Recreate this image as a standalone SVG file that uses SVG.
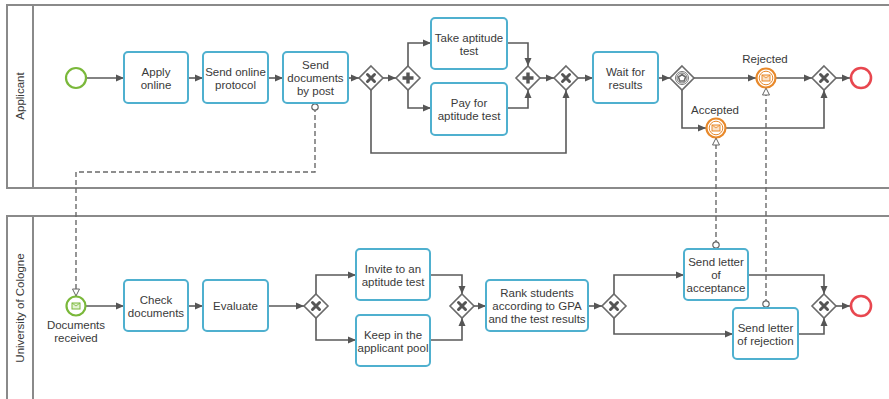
<svg xmlns="http://www.w3.org/2000/svg" width="889" height="399" viewBox="0 0 889 399">
<style>
.pool{fill:none;stroke:#8a8a8a;stroke-width:2}
.task rect{fill:#fff;stroke:#4fb0cf;stroke-width:2}
.t{font-family:"Liberation Sans",Arial,sans-serif;font-size:11.5px;fill:#3a3a3a;text-anchor:middle}
.lbl{font-family:"Liberation Sans",Arial,sans-serif;font-size:11.5px;fill:#3a3a3a;text-anchor:middle}
.gw polygon{fill:#fff;stroke:#6a6a6a;stroke-width:1.6}
.xm{stroke:#555;stroke-width:3;stroke-linecap:round;fill:none}
.pm{stroke:#555;stroke-width:3.4;fill:none}
.flow{fill:none;stroke:#5a5a5a;stroke-width:1.6}
.msg{fill:none;stroke:#6a6a6a;stroke-width:1.4;stroke-dasharray:5,3}
.start{fill:#fff;stroke:#7ab83a;stroke-width:2.2}
.end{fill:#fff;stroke:#e8474f;stroke-width:2.6}
.inter{fill:#fff;stroke:#e8892b;stroke-width:2.2}
.env{fill:#fbe3c8;stroke:#e8892b;stroke-width:1}
</style>
<defs>
<marker id="ar" markerUnits="userSpaceOnUse" markerWidth="9" markerHeight="8" refX="8" refY="4" orient="auto"><path d="M0,0.5 L8,4 L0,7.5 z" fill="#555"/></marker>
<marker id="mar" markerUnits="userSpaceOnUse" markerWidth="10" markerHeight="9" refX="8" refY="4.5" orient="auto"><path d="M1,1 L8,4.5 L1,8 z" fill="#fff" stroke="#666" stroke-width="1"/></marker>
<marker id="mst" markerUnits="userSpaceOnUse" markerWidth="9" markerHeight="9" refX="4.5" refY="4.5" orient="auto"><circle cx="4.5" cy="4.5" r="3.2" fill="#fff" stroke="#666" stroke-width="1.2"/></marker>
</defs>

<g id="pool-applicant">
<path class="pool" d="M889 5 H7 V188 H889"/>
<line class="pool" x1="33" y1="5" x2="33" y2="188"/>
<text class="lbl" transform="translate(24,96) rotate(-90)">Applicant</text>
</g>
<g id="pool-university">
<path class="pool" d="M889 216 H7 V399"/>
<line class="pool" x1="33" y1="216" x2="33" y2="399"/>
<text class="lbl" transform="translate(24,308) rotate(-90)">University of Cologne</text>
</g>

<g id="connectors">
<path class="flow" marker-end="url(#ar)" d="M86 78 H124"/>
<path class="flow" marker-end="url(#ar)" d="M188 78 H203"/>
<path class="flow" marker-end="url(#ar)" d="M268 78 H283"/>
<path class="flow" marker-end="url(#ar)" d="M348 78 H359"/>
<path class="flow" marker-end="url(#ar)" d="M383 78 H396"/>
<path class="flow" marker-end="url(#ar)" d="M408 66 V43 H431"/>
<path class="flow" marker-end="url(#ar)" d="M408 90 V108 H431"/>
<path class="flow" marker-end="url(#ar)" d="M507 43 H528 V66"/>
<path class="flow" marker-end="url(#ar)" d="M507 108 H528 V90"/>
<path class="flow" marker-end="url(#ar)" d="M540 78 H554"/>
<path class="flow" marker-end="url(#ar)" d="M371 90 V153 H566 V90"/>
<path class="flow" marker-end="url(#ar)" d="M578 78 H593"/>
<path class="flow" marker-end="url(#ar)" d="M658 78 H670"/>
<path class="flow" marker-end="url(#ar)" d="M694 78 H756"/>
<path class="flow" marker-end="url(#ar)" d="M776 78 H812"/>
<path class="flow" marker-end="url(#ar)" d="M836 78 H850"/>
<path class="flow" marker-end="url(#ar)" d="M682 90 V128 H706"/>
<path class="flow" marker-end="url(#ar)" d="M726 128 H824 V90"/>

<path class="flow" marker-end="url(#ar)" d="M86 306 H124"/>
<path class="flow" marker-end="url(#ar)" d="M188 306 H203"/>
<path class="flow" marker-end="url(#ar)" d="M268 306 H304"/>
<path class="flow" marker-end="url(#ar)" d="M316 294 V275 H356"/>
<path class="flow" marker-end="url(#ar)" d="M316 318 V340 H356"/>
<path class="flow" marker-end="url(#ar)" d="M430 275 H462 V294"/>
<path class="flow" marker-end="url(#ar)" d="M430 340 H462 V318"/>
<path class="flow" marker-end="url(#ar)" d="M474 306 H486"/>
<path class="flow" marker-end="url(#ar)" d="M588 306 H602"/>
<path class="flow" marker-end="url(#ar)" d="M614 294 V275 H684"/>
<path class="flow" marker-end="url(#ar)" d="M614 318 V334 H733"/>
<path class="flow" marker-end="url(#ar)" d="M748 275 H824 V294"/>
<path class="flow" marker-end="url(#ar)" d="M798 334 H824 V318"/>
<path class="flow" marker-end="url(#ar)" d="M836 306 H850"/>

<path class="msg" marker-start="url(#mst)" marker-end="url(#mar)" d="M315 107 V172 H76 V296"/>
<path class="msg" marker-start="url(#mst)" marker-end="url(#mar)" d="M716 245 V138"/>
<path class="msg" marker-start="url(#mst)" marker-end="url(#mar)" d="M766 304 V88"/>
</g>

<g id="start-applicant"><circle class="start" cx="76" cy="78" r="10"/></g>
<g id="task-apply-online" class="task"><rect x="124" y="52" width="64" height="51" rx="4"/><text class="t" x="156" y="76">Apply</text><text class="t" x="156" y="89">online</text></g>
<g id="task-send-protocol" class="task"><rect x="203" y="52" width="65" height="51" rx="4"/><text class="t" x="235.5" y="76">Send online</text><text class="t" x="235.5" y="89">protocol</text></g>
<g id="task-send-documents" class="task"><rect x="283" y="52" width="65" height="51" rx="4"/><text class="t" x="315.5" y="69">Send</text><text class="t" x="315.5" y="82">documents</text><text class="t" x="315.5" y="95">by post</text></g>
<g id="gw-xor1" class="gw"><polygon points="371,66 383,78 371,90 359,78"/><path class="xm" d="M367.5 74.5 L374.5 81.5 M374.5 74.5 L367.5 81.5"/></g>
<g id="gw-and-split" class="gw"><polygon points="408,66 420,78 408,90 396,78"/><path class="pm" d="M408 72.5 V83.5 M402.5 78 H413.5"/></g>
<g id="task-take-test" class="task"><rect x="431" y="18" width="76" height="51" rx="4"/><text class="t" x="469" y="42">Take aptitude</text><text class="t" x="469" y="55">test</text></g>
<g id="task-pay-test" class="task"><rect x="431" y="83" width="76" height="52" rx="4"/><text class="t" x="469" y="107">Pay for</text><text class="t" x="469" y="120">aptitude test</text></g>
<g id="gw-and-join" class="gw"><polygon points="528,66 540,78 528,90 516,78"/><path class="pm" d="M528 72.5 V83.5 M522.5 78 H533.5"/></g>
<g id="gw-xor-join1" class="gw"><polygon points="566,66 578,78 566,90 554,78"/><path class="xm" d="M562.5 74.5 L569.5 81.5 M569.5 74.5 L562.5 81.5"/></g>
<g id="task-wait" class="task"><rect x="593" y="52" width="65" height="51" rx="4"/><text class="t" x="625.5" y="76">Wait for</text><text class="t" x="625.5" y="89">results</text></g>
<g id="gw-event" class="gw"><polygon points="682,66 694,78 682,90 670,78"/><circle cx="682" cy="78" r="6.5" fill="none" stroke="#777" stroke-width="1"/><circle cx="682" cy="78" r="5" fill="none" stroke="#777" stroke-width="1"/><polygon points="682,74.5 685.5,77 684.2,81 679.8,81 678.5,77" fill="none" stroke="#777" stroke-width="1"/></g>
<g id="event-rejected"><circle class="inter" cx="766" cy="78" r="9.5"/><circle cx="766" cy="78" r="6.8" fill="none" stroke="#e8892b" stroke-width="1"/><rect class="env" x="762" y="75" width="8" height="6"/><path d="M762 75 L766 78 L770 75" fill="none" stroke="#e8892b" stroke-width="0.8"/><text class="lbl" x="765" y="63">Rejected</text></g>
<g id="event-accepted"><circle class="inter" cx="716" cy="128" r="9.5"/><circle cx="716" cy="128" r="6.8" fill="none" stroke="#e8892b" stroke-width="1"/><rect class="env" x="712" y="125" width="8" height="6"/><path d="M712 125 L716 128 L720 125" fill="none" stroke="#e8892b" stroke-width="0.8"/><text class="lbl" x="715" y="114">Accepted</text></g>
<g id="gw-xor-join2" class="gw"><polygon points="824,66 836,78 824,90 812,78"/><path class="xm" d="M820.5 74.5 L827.5 81.5 M827.5 74.5 L820.5 81.5"/></g>
<g id="end-applicant"><circle class="end" cx="861" cy="78" r="10"/></g>

<g id="start-documents-received"><circle class="start" cx="76" cy="306" r="9.5"/><rect x="72" y="303" width="8" height="6" fill="#e3f2d3" stroke="#7ab83a" stroke-width="1"/><path d="M72 303 L76 306 L80 303" fill="none" stroke="#7ab83a" stroke-width="0.8"/><text class="lbl" x="76" y="329">Documents</text><text class="lbl" x="76" y="342">received</text></g>
<g id="task-check-documents" class="task"><rect x="124" y="280" width="64" height="51" rx="4"/><text class="t" x="156" y="304">Check</text><text class="t" x="156" y="317">documents</text></g>
<g id="task-evaluate" class="task"><rect x="203" y="280" width="65" height="51" rx="4"/><text class="t" x="235.5" y="310">Evaluate</text></g>
<g id="gw-xor-split-u1" class="gw"><polygon points="316,294 328,306 316,318 304,306"/><path class="xm" d="M312.5 302.5 L319.5 309.5 M319.5 302.5 L312.5 309.5"/></g>
<g id="task-invite" class="task"><rect x="356" y="249" width="74" height="51" rx="4"/><text class="t" x="393" y="273">Invite to an</text><text class="t" x="393" y="286">aptitude test</text></g>
<g id="task-keep-pool" class="task"><rect x="356" y="315" width="74" height="51" rx="4"/><text class="t" x="393" y="339">Keep in the</text><text class="t" x="393" y="352">applicant pool</text></g>
<g id="gw-xor-join-u1" class="gw"><polygon points="462,294 474,306 462,318 450,306"/><path class="xm" d="M458.5 302.5 L465.5 309.5 M465.5 302.5 L458.5 309.5"/></g>
<g id="task-rank" class="task"><rect x="486" y="280" width="102" height="51" rx="4"/><text class="t" x="537" y="297">Rank students</text><text class="t" x="537" y="310">according to GPA</text><text class="t" x="537" y="323">and the test results</text></g>
<g id="gw-xor-split-u2" class="gw"><polygon points="614,294 626,306 614,318 602,306"/><path class="xm" d="M610.5 302.5 L617.5 309.5 M617.5 302.5 L610.5 309.5"/></g>
<g id="task-acceptance" class="task"><rect x="684" y="249" width="64" height="51" rx="4"/><text class="t" x="716" y="266">Send letter</text><text class="t" x="716" y="279">of</text><text class="t" x="716" y="292">acceptance</text></g>
<g id="task-rejection" class="task"><rect x="733" y="308" width="65" height="51" rx="4"/><text class="t" x="765.5" y="332">Send letter</text><text class="t" x="765.5" y="345">of rejection</text></g>
<g id="gw-xor-join-u2" class="gw"><polygon points="824,294 836,306 824,318 812,306"/><path class="xm" d="M820.5 302.5 L827.5 309.5 M827.5 302.5 L820.5 309.5"/></g>
<g id="end-university"><circle class="end" cx="861" cy="306" r="10"/></g>
</svg>
